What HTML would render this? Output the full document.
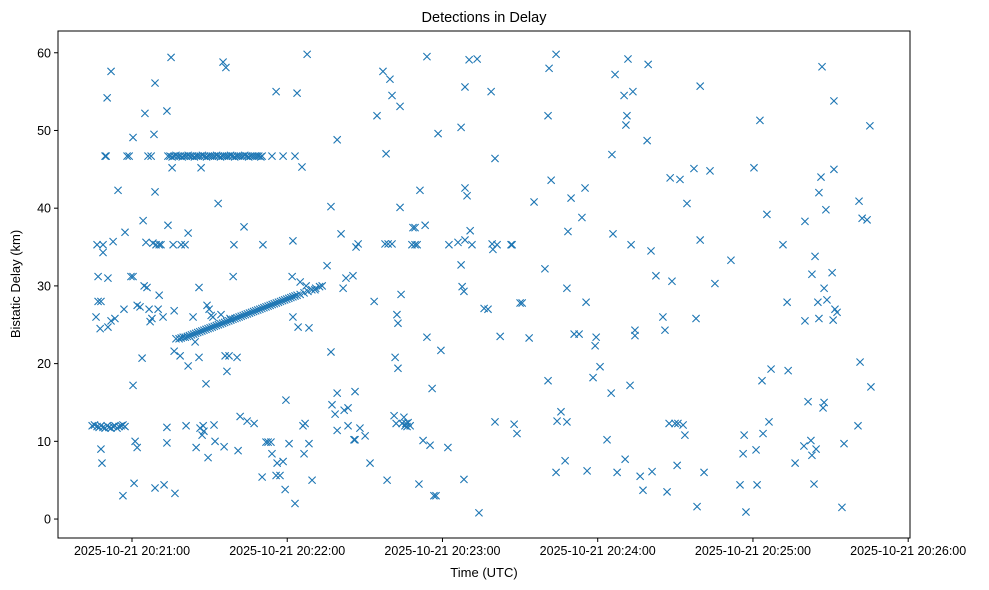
<!DOCTYPE html>
<html><head><meta charset="utf-8"><style>
body{margin:0;background:#fff;}
svg{display:block;font-family:"Liberation Sans","DejaVu Sans",sans-serif;}
</style></head><body>
<svg id="chart" width="989" height="590" xmlns="http://www.w3.org/2000/svg">
<rect width="989" height="590" fill="#fff"/>
<text x="484" y="22" text-anchor="middle" font-size="14.5">Detections in Delay</text>
<g id="marks"></g>
<rect x="58" y="31" width="852" height="507" fill="none" stroke="#000" stroke-width="1"/>
<g id="xaxis"></g>
<g id="yaxis"></g>
<text x="484" y="577" text-anchor="middle" font-size="13">Time (UTC)</text>
<text transform="translate(20,284) rotate(-90)" text-anchor="middle" font-size="13">Bistatic Delay (km)</text>
</svg>
<script>
// time in seconds after 2025-10-21 20:20:00 UTC, delay in km
const scatterTimes = [46.1,46.5,46.9,46.9,47.7,48.0,48.0,48.4,48.8,48.8,49.6,50.0,50.4,50.7,50.7,51.9,51.9,52.7,53.4,54.6,56.5,56.9,57.3,58.1,58.9,59.6,60.4,60.4,60.4,60.8,61.2,62.0,62.0,63.1,63.9,64.3,64.7,65.0,65.4,65.8,66.2,66.6,67.0,67.4,67.7,68.1,68.5,68.9,68.9,68.9,69.3,70.1,70.5,70.5,71.2,72.0,72.4,73.5,73.5,73.5,73.9,75.1,75.5,75.9,76.3,76.3,76.6,77.0,78.6,79.0,80.5,80.9,81.7,81.7,83.6,84.4,84.8,85.9,85.9,86.3,86.7,87.1,87.5,87.8,88.6,89.0,89.4,89.8,90.6,91.3,91.7,92.1,93.3,94.4,95.2,95.6,96.0,96.3,96.7,97.5,97.9,99.1,99.4,100.6,101.0,101.8,103.3,104.5,107.2,110.3,110.6,111.8,112.6,113.7,114.1,115.7,115.7,116.1,117.2,118.4,119.2,119.5,120.7,121.9,122.2,122.2,123.0,123.8,124.2,125.0,125.7,126.1,126.5,126.9,127.3,127.7,128.4,128.4,129.6,130.7,133.5,135.4,136.9,136.9,137.3,138.5,139.3,139.3,139.3,140.8,141.6,142.0,142.7,143.5,143.5,145.4,145.8,146.2,146.2,146.6,147.4,148.1,150.1,152.0,153.6,154.7,157.0,157.8,158.2,158.6,159.0,159.7,160.5,160.5,161.3,161.7,162.1,162.4,162.8,162.8,163.6,163.6,164.0,164.4,165.1,165.5,165.9,166.3,166.7,167.5,168.2,168.6,169.4,169.4,170.2,170.9,171.3,172.5,173.3,174.0,174.0,175.2,176.0,176.7,177.5,178.3,179.4,182.1,182.5,186.0,187.2,187.2,187.6,188.3,188.3,188.7,188.7,188.7,189.5,190.3,190.7,191.4,193.4,194.1,196.1,197.6,198.8,199.2,199.5,200.3,200.3,201.1,202.3,206.5,206.9,207.7,208.8,210.0,210.8,213.5,215.4,219.6,220.8,220.8,221.2,222.0,223.9,223.9,224.3,225.8,227.4,228.1,228.1,228.5,229.7,230.9,232.8,233.9,235.1,235.5,235.9,238.2,239.0,239.4,240.9,243.6,245.2,245.5,245.9,246.7,247.5,250.2,250.6,250.9,251.3,251.7,252.5,252.9,253.6,254.4,254.4,256.4,257.5,259.1,259.5,260.6,261.0,262.5,265.2,266.0,266.8,267.6,268.0,268.7,269.9,270.7,271.0,271.8,273.0,273.7,274.5,277.2,278.0,278.4,279.6,279.6,281.1,283.4,285.3,291.5,295.0,296.2,296.6,297.3,300.4,301.2,301.6,302.7,303.5,303.9,305.4,306.2,307.0,311.6,313.2,313.6,316.3,319.7,320.1,320.1,321.3,322.4,322.8,322.8,323.6,324.0,324.4,325.1,325.5,325.5,326.3,326.7,327.1,327.5,327.5,328.2,328.6,330.6,331.0,331.3,331.3,331.7,332.5,334.4,335.2,340.6,341.0,341.4,342.2,344.1,345.2,345.6];
const scatterDelays = [26,35.3,31.2,28,24.5,28,9,7.2,35.3,34.3,46.7,46.7,54.2,31,24.7,57.6,25.5,35.7,25.8,42.3,3,27,36.9,46.7,46.7,31.2,31.2,49.1,17.2,4.6,10,9.2,27.5,27.3,20.7,38.4,30,52.2,35.6,29.8,46.7,27,25.4,46.7,25.8,35.5,49.5,42.1,56.1,4,35.3,27,28.8,35.3,35.3,26,4.4,52.5,11.8,9.8,37.8,59.4,45.2,35.3,26.8,21.6,3.3,23.2,21,35.3,35.3,12,19.7,36.8,26,22.8,9.2,29.8,20.8,11.7,45.2,10.8,12,11.3,17.4,27.5,7.9,27,26.2,26,12.1,10,40.6,26.3,58.8,9.3,21,58.1,19,21,25.8,31.2,35.3,20.8,8.8,13.2,37.6,12.6,12.3,5.4,35.3,9.9,9.9,9.9,8.4,55,5.6,7.2,5.6,7.4,3.8,15.3,9.7,31.2,35.8,26,2,54.8,24.7,30.5,45.3,12,8.4,12.3,30,59.8,24.6,9.7,5,29.5,30,32.6,40.2,21.5,14.7,13.5,48.8,16.2,11.4,36.7,29.7,14,31,12,14.3,31.3,10.2,10.2,16.4,35,35.4,11.7,10.7,7.2,28,51.9,57.6,35.4,47,5,35.4,56.6,54.5,35.4,13.3,20.8,12.3,26.3,25.2,19.4,53.1,40.1,28.9,12.3,13.1,12,12.3,11.9,12.4,12,35.3,37.5,37.5,35.3,35.3,4.5,42.3,10.1,37.8,59.5,23.4,9.5,16.8,3,3,49.6,21.7,9.2,35.3,35.6,32.7,50.4,29.9,29.3,5.1,55.6,35.9,42.6,41.6,59.1,37.1,35.3,59.2,0.8,27.1,27,55,35.4,34.7,12.5,46.4,35.3,23.5,35.3,35.3,12.2,11,27.8,27.8,23.3,40.8,32.2,17.8,51.9,58,43.6,59.8,6,12.6,13.8,7.5,12.5,29.7,37,41.3,23.8,23.8,38.8,42.6,27.9,6.2,18.2,22.3,23.4,19.6,10.2,16.2,46.9,36.7,57.2,6,54.5,7.7,50.7,51.9,59.2,17.2,35.3,55,23.6,24.3,5.5,3.7,48.7,58.5,34.5,6.1,31.3,26,24.3,3.5,12.3,43.9,30.6,12.3,6.9,12.3,43.7,12.1,10.8,40.6,45.1,25.8,1.6,35.9,55.7,6,44.8,30.3,33.3,4.4,8.4,10.8,0.9,45.2,8.9,4.4,51.3,17.8,11,39.2,12.5,19.3,35.3,27.9,19.1,7.2,9.4,25.5,38.3,15.1,10.1,8.2,31.5,4.5,33.8,9,27.9,42,25.8,44,58.2,14.3,15,29.7,39.8,28.2,31.7,25.6,53.8,45,27,26.6,1.5,9.7,12,40.9,20.2,38.7,38.5,50.6,17,27.1];
// dense track at ~12 km
const track12Times = [44.6,45.5,46.5,47.3,48.0,48.8,49.6,50.4,51.1,51.9,52.7,53.4,54.2,55.0,55.8,56.5,57.3];
const track12Delays = [12,12.1,11.9,11.8,12,11.8,11.7,12,11.8,11.7,11.9,12,11.7,11.9,12,12.1,11.9];
// dense track at ~46.7 km
const track47Times = [73.9,74.7,75.5,76.3,77.0,77.8,78.6,79.4,80.2,81.0,81.7,82.5,83.3,84.1,84.9,85.6,86.4,87.2,88.0,88.8,89.5,90.3,91.1,91.9,92.7,93.4,94.2,95.0,95.8,96.6,97.3,98.1,98.9,99.7,100.5,101.2,102.0,102.8,103.6,104.4,105.1,105.9,106.7,107.5,108.3,109.0,109.8,110.3,114.1,118.4,123.0];
const track47Delays = [46.7,46.7,46.6,46.7,46.8,46.7,46.7,46.6,46.7,46.7,46.8,46.7,46.7,46.6,46.7,46.7,46.7,46.8,46.7,46.6,46.7,46.7,46.7,46.7,46.8,46.7,46.6,46.7,46.7,46.7,46.7,46.8,46.7,46.6,46.7,46.7,46.7,46.7,46.8,46.7,46.6,46.7,46.7,46.7,46.7,46.7,46.6,46.7,46.7,46.7,46.7];
// rising track from ~23 to ~30 km
const trackRiseTimes = [78.2,79.0,79.8,80.6,81.4,82.2,83.0,83.8,84.6,85.4,86.2,87.0,87.8,88.6,89.4,90.2,91.0,91.8,92.6,93.4,94.2,95.0,95.8,96.6,97.4,98.2,99.0,99.8,100.6,101.4,102.2,103.0,103.8,104.6,105.4,106.2,107.0,107.8,108.6,109.4,110.2,111.0,111.8,112.6,113.4,114.2,115.0,115.8,116.6,117.4,118.2,119.0,119.8,120.6,121.4,122.2,123.0,123.8,125.0,126.5,128.0,129.5,131.0,132.5];
const trackRiseDelays = [23.2,23.3,23.4,23.4,23.5,23.6,23.7,23.8,23.9,24.0,24.1,24.2,24.3,24.4,24.5,24.6,24.7,24.8,24.9,25.0,25.1,25.2,25.3,25.4,25.5,25.6,25.7,25.8,25.9,26.0,26.1,26.2,26.3,26.4,26.5,26.6,26.7,26.8,26.9,27.0,27.1,27.2,27.3,27.4,27.5,27.6,27.7,27.8,27.9,28.0,28.1,28.2,28.3,28.4,28.5,28.6,28.7,28.8,28.9,29.1,29.3,29.5,29.7,29.9];
const xTickSeconds = [60,120,180,240,300,360];
const xTickLabels = ["2025-10-21 20:21:00","2025-10-21 20:22:00","2025-10-21 20:23:00","2025-10-21 20:24:00","2025-10-21 20:25:00","2025-10-21 20:26:00"];
const yTickValues = [0,10,20,30,40,50,60];

const NS = "http://www.w3.org/2000/svg";
const X0 = 58, X1 = 910, Y0 = 538, Y1 = 31;
const tMin = 31.4, tMax = 360.7, dMin = -2.44, dMax = 62.8;
function xScale(t){ return X0 + (t - tMin) / (tMax - tMin) * (X1 - X0); }
function yScale(d){ return Y0 - (d - dMin) / (dMax - dMin) * (Y0 - Y1); }

const marks = document.getElementById('marks');
function drawSeries(ts, ds){
  for (let i = 0; i < ts.length; i++) {
    const cx = xScale(ts[i]), cy = yScale(ds[i]), s = 3.6;
    const p = document.createElementNS(NS, 'path');
    p.setAttribute('d', `M${cx-s},${cy-s}L${cx+s},${cy+s}M${cx-s},${cy+s}L${cx+s},${cy-s}`);
    p.setAttribute('stroke', '#1f77b4');
    p.setAttribute('stroke-width', '1.1');
    p.setAttribute('fill', 'none');
    
    
    marks.appendChild(p);
  }
}
drawSeries(scatterTimes, scatterDelays);
drawSeries(track12Times, track12Delays);
drawSeries(track47Times, track47Delays);
drawSeries(trackRiseTimes, trackRiseDelays);

const xaxis = document.getElementById('xaxis');
xTickSeconds.forEach((t, i) => {
  const x = xScale(t);
  const l = document.createElementNS(NS, 'line');
  l.setAttribute('x1', x); l.setAttribute('x2', x);
  l.setAttribute('y1', Y0); l.setAttribute('y2', Y0 + 4);
  l.setAttribute('stroke', '#000');
  
  
  xaxis.appendChild(l);
  const tx = document.createElementNS(NS, 'text');
  tx.setAttribute('x', x); tx.setAttribute('y', Y0 + 17);
  tx.setAttribute('text-anchor', 'middle');
  tx.setAttribute('font-size', '12.5');
  tx.textContent = xTickLabels[i];
  
  
  xaxis.appendChild(tx);
});
const yaxis = document.getElementById('yaxis');
yTickValues.forEach(v => {
  const y = yScale(v);
  const l = document.createElementNS(NS, 'line');
  l.setAttribute('x1', X0 - 4); l.setAttribute('x2', X0);
  l.setAttribute('y1', y); l.setAttribute('y2', y);
  l.setAttribute('stroke', '#000');
  
  
  yaxis.appendChild(l);
  const tx = document.createElementNS(NS, 'text');
  tx.setAttribute('x', X0 - 7); tx.setAttribute('y', y + 4.5);
  tx.setAttribute('text-anchor', 'end');
  tx.setAttribute('font-size', '12.5');
  tx.textContent = v;
  
  
  yaxis.appendChild(tx);
});
</script>
</body></html>
